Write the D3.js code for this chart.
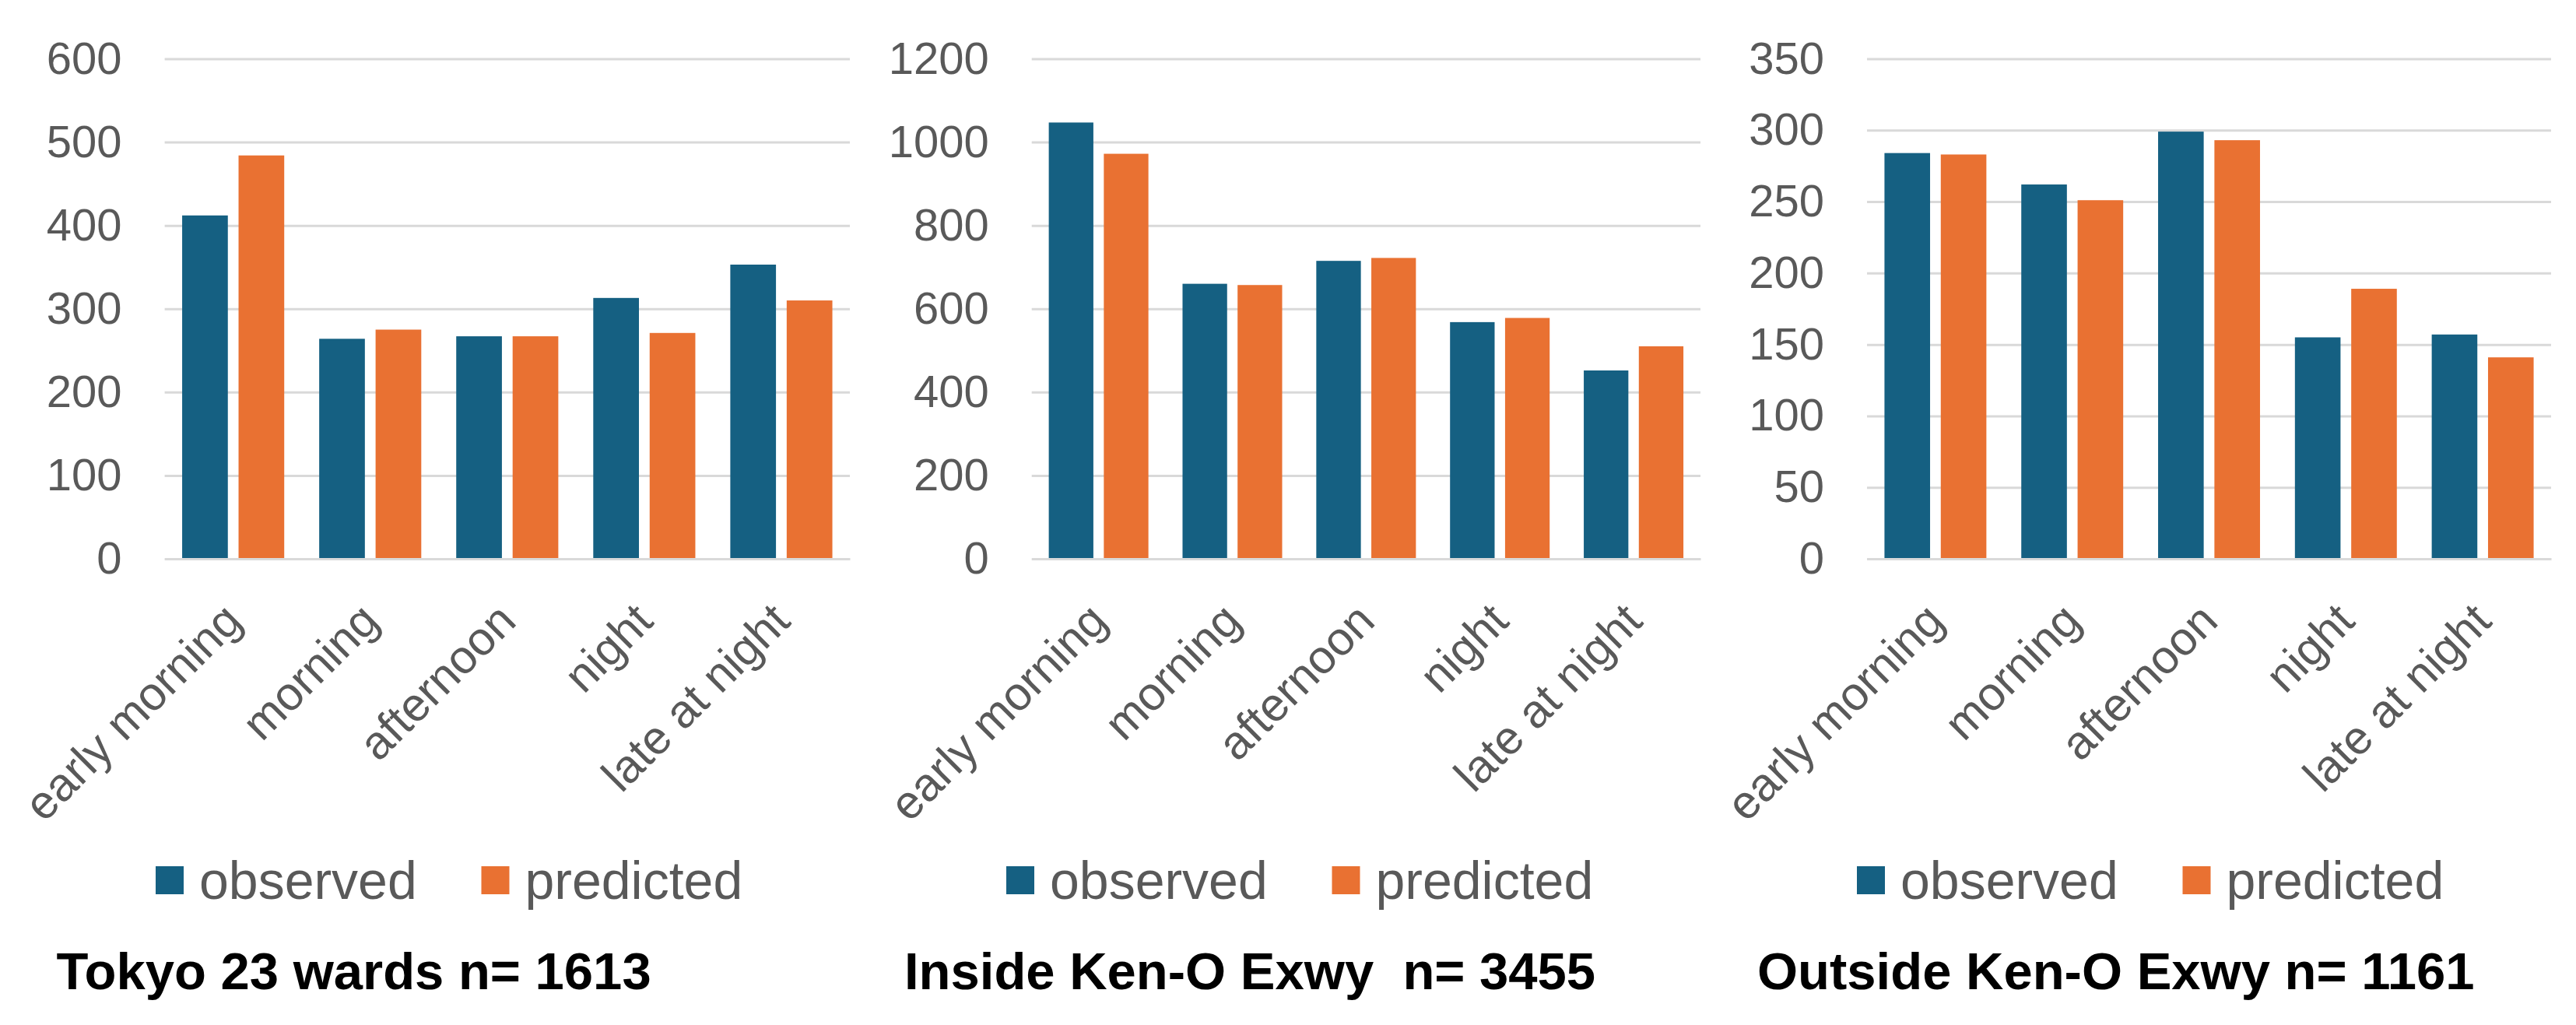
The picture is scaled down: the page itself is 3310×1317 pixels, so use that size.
<!DOCTYPE html>
<html>
<head>
<meta charset="utf-8">
<script src="https://cdn.jsdelivr.net/npm/d3@7"></script>
<style>
  html, body { margin: 0; padding: 0; background: #ffffff; }
  svg { display: block; }
  text { font-family: "Liberation Sans", Arial, sans-serif; }
</style>
</head>
<body>
<svg id="chart" width="3310" height="1317"></svg>
<script>
// ---- data ----
const categories = ["early morning", "morning", "afternoon", "night", "late at night"];
const seriesNames = ["observed", "predicted"];

const tokyoObserved   = [412, 264, 267, 313, 353];
const tokyoPredicted  = [484, 275, 267, 271, 310];
const insideObserved  = [1047, 660, 715, 568, 452];
const insidePredicted = [972, 657, 722, 578, 510];
const outsideObserved = [284, 262, 299, 155, 157];
const outsidePredicted= [283, 251, 293, 189, 141];

const tokyoTicks   = [0, 100, 200, 300, 400, 500, 600];
const insideTicks  = [0, 200, 400, 600, 800, 1000, 1200];
const outsideTicks = [0, 50, 100, 150, 200, 250, 300, 350];

const panelTitles = ["Tokyo 23 wards n= 1613", "Inside Ken-O Exwy  n= 3455", "Outside Ken-O Exwy n= 1161"];

const panels = [
  { title: panelTitles[0], obs: tokyoObserved,   pred: tokyoPredicted,   ticks: tokyoTicks },
  { title: panelTitles[1], obs: insideObserved,  pred: insidePredicted,  ticks: insideTicks },
  { title: panelTitles[2], obs: outsideObserved, pred: outsidePredicted, ticks: outsideTicks }
];

// ---- layout (styling only) ----
const colors = { observed: "#156082", predicted: "#E97132" };
const frames = [0, 1093, 2186];
const plotLeftOff = [211.6, 232.7, 213];
const plotRightOff = 1092;
const plotTop = 75.5, plotBottom = 718;
const titleOff = [72.6, 69, 72];

const svg = d3.select("#chart");
svg.append("rect").attr("width", 3310).attr("height", 1317).attr("fill", "#ffffff");

panels.forEach((p, i) => {
  const fx = frames[i];
  const left = fx + plotLeftOff[i];
  const right = fx + plotRightOff;
  const w = right - left;

  const g = svg.append("g").attr("transform", `translate(${left},0)`);

  const y = d3.scaleLinear()
    .domain([0, d3.max(p.ticks)])
    .range([plotBottom, plotTop]);

  const x0 = d3.scaleBand().domain(categories).range([0, w]).paddingInner(0).paddingOuter(0);
  const x1 = d3.scaleBand().domain(seriesNames).range([0, x0.bandwidth()])
    .paddingInner(0.19).paddingOuter(0.31);

  // gridlines + y labels
  const yAxis = d3.axisLeft(y).tickValues(p.ticks).tickSize(-w).tickPadding(55).tickFormat(d3.format("d"));
  const ya = g.append("g").call(yAxis);
  ya.select(".domain").remove();
  ya.selectAll(".tick line").attr("stroke", "#D9D9D9").attr("stroke-width", 3);
  ya.selectAll(".tick text")
    .attr("fill", "#595959")
    .attr("font-size", 58)
    .attr("font-family", "'Liberation Sans', Arial, sans-serif");

  // bars
  const rows = categories.map((c, k) => ({ cat: c, observed: p.obs[k], predicted: p.pred[k] }));
  const grp = g.append("g").selectAll("g").data(rows).join("g")
    .attr("transform", d => `translate(${x0(d.cat)},0)`);
  grp.selectAll("rect")
    .data(d => seriesNames.map(s => ({ s, v: d[s] })))
    .join("rect")
    .attr("x", d => x1(d.s))
    .attr("width", x1.bandwidth())
    .attr("y", d => y(d.v))
    .attr("height", d => y(0) - y(d.v))
    .attr("fill", d => colors[d.s]);

  // x axis line
  const xAxis = d3.axisBottom(x0).tickSize(0).tickFormat("");
  const xa = g.append("g").attr("transform", `translate(0,${plotBottom})`).call(xAxis);
  xa.select(".domain").attr("stroke", "#D9D9D9").attr("stroke-width", 3);

  // rotated category labels
  g.append("g").selectAll("text").data(categories).join("text")
    .attr("transform", d => `translate(${x0(d) + x0.bandwidth() / 2 + 14},${plotBottom + 83}) rotate(-45)`)
    .attr("text-anchor", "end")
    .attr("fill", "#595959")
    .attr("font-size", 60)
    .text(d => d);

  // legend
  const legX = [fx + 200, fx + 618.5];
  seriesNames.forEach((s, k) => {
    svg.append("rect")
      .attr("x", legX[k]).attr("y", 1113)
      .attr("width", 36).attr("height", 36)
      .attr("fill", colors[s]);
    svg.append("text")
      .attr("x", legX[k] + 56).attr("y", 1155)
      .attr("fill", "#595959")
      .attr("font-size", 68)
      .text(s);
  });

  // title
  svg.append("text")
    .attr("x", fx + titleOff[i]).attr("y", 1271)
    .attr("fill", "#000000")
    .attr("font-size", 67)
    .attr("font-weight", "bold")
    .style("white-space", "pre")
    .text(p.title);
});
</script>
</body>
</html>
